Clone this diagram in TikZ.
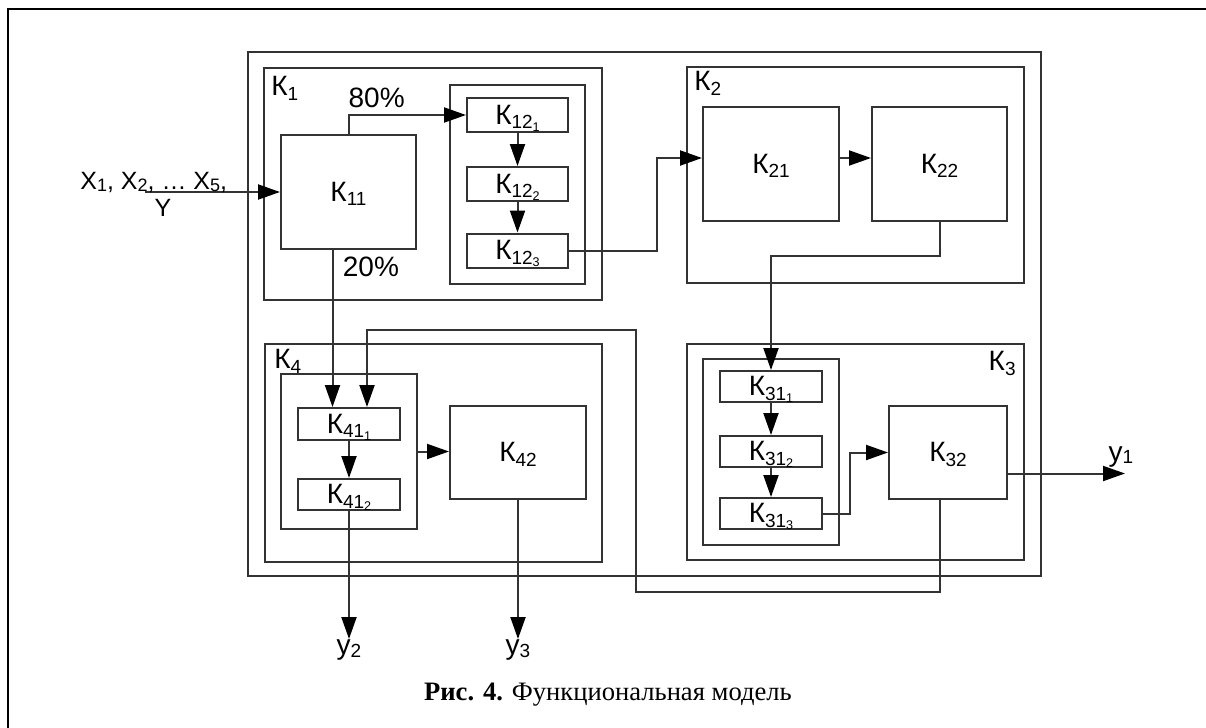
\documentclass[tikz,border=0pt]{standalone}
\usepackage{fontspec}
\setmainfont{Liberation Serif}
\newfontfamily\diafont{Liberation Sans}
\usetikzlibrary{arrows.meta,calc,positioning}
\tikzset{
  lbl/.style={font=\diafont\fontsize{14}{16}\selectfont,inner sep=0pt},
  blk/.style={draw=black!80,line width=1pt,inner sep=0pt,lbl,text height=10pt,text depth=1pt},
  arr/.style={draw=black!80,line width=1pt,-{Triangle[length=11pt,width=7.5pt,fill=black,color=black]}}
}
% block: name, centre, width, height (pt), text
\newcommand{\blk}[5]{\node[blk,minimum width=#3pt,minimum height=#4pt] (#1) at (#2) {#5};}
% K with index, and K with index of index
\newcommand{\Ks}[1]{К\raisebox{-2.4pt}{\fontsize{9.5}{10}\selectfont#1}}
\newcommand{\Kss}[2]{К\raisebox{-2.4pt}{\fontsize{9.5}{10}\selectfont#1\raisebox{-1.2pt}{\fontsize{6.3}{7}\selectfont#2}}}
\newcommand{\Xs}[1]{X\raisebox{-1pt}{\fontsize{9}{9}\selectfont#1}}

\begin{document}
\begin{tikzpicture}[x=0.5pt,y=-0.5pt]
  \useasboundingbox (0,0) rectangle (1206,728);
  % Page frame
  \draw[line width=1.3pt] (8,728) -- (8,9) -- (1206,9);
  % Outer system
  \blk{sys}{644.5,314}{396.5}{262}{}
  % K1
  \blk{k1}{433,184}{169}{116}{}
  \node[lbl,anchor=north west] (k1t) at ($(k1.north west)+(8,9)$) {\Ks{1}};
  \blk{k11}{348.5,192}{67.5}{57}{\Ks{11}}
  \blk{k12}{517.5,184.5}{67.5}{99.5}{}
  \blk{k121}{517.5,115}{50.5}{17}{\Kss{12}{1}}
  \blk{k122}{517.5,184}{50.5}{17}{\Kss{12}{2}}
  \blk{k123}{517.5,250.5}{50.5}{17}{\Kss{12}{3}}
  % K2
  \blk{k2}{855.5,175}{168.5}{108}{}
  \node[lbl,anchor=north west] (k2t) at ($(k2.north west)+(8,5)$) {\Ks{2}};
  \blk{k21}{771,164}{68}{57}{\Ks{21}}
  \blk{k22}{939.5,164}{67.5}{57}{\Ks{22}}
  % K4
  \blk{k4}{433.5,453}{168.5}{109}{}
  \node[lbl,anchor=north west] (k4t) at ($(k4.north west)+(10,6)$) {\Ks{4}};
  \blk{k41}{349,451.5}{68}{77.5}{}
  \blk{k411}{349,424}{51}{16}{\Kss{41}{1}}
  \blk{k412}{349,494.5}{51}{15.5}{\Kss{41}{2}}
  \blk{k42}{518,452.5}{68}{46.5}{\Ks{42}}
  % K3
  \blk{k3}{855.5,452}{168.5}{108}{}
  \node[lbl,anchor=north east] (k3t) at ($(k3.north east)+(-9,8)$) {\Ks{3}};
  \blk{k31}{771,452}{68}{93}{}
  \blk{k311}{771,386.5}{51}{15.5}{\Kss{31}{1}}
  \blk{k312}{771,451.5}{51}{15.5}{\Kss{31}{2}}
  \blk{k313}{771,513.5}{51}{15.5}{\Kss{31}{3}}
  \blk{k32}{948,452.5}{59}{46.5}{\Ks{32}}

  % Input
  \coordinate (in) at ($(k11.west)+(-135,0)$);
  \draw[arr] (in) -- (k11.west);
  \node[lbl,font=\diafont\fontsize{12.5}{14}\selectfont,anchor=base west] (xin) at (80,189)
    {\Xs{1}, \Xs{2}, \dots\ \Xs{5},};
  \node[lbl,font=\diafont\fontsize{12.5}{14}\selectfont,anchor=base] (yin) at (163,216) {Y};
  % K1 internals
  \draw[arr] (k11.north) |- node[lbl,pos=0.62,above=3pt] {80\%} (k121.west);
  \draw[arr] (k121) -- (k122);
  \draw[arr] (k122) -- (k123);
  \coordinate (p20) at ($(k11.south)+(-16,0)$);
  \node[lbl,anchor=north west] (l20) at ($(p20)+(10,7)$) {20\%};
  \draw[arr] (p20) -- (p20 |- k411.north);
  % K1 -> K2
  \draw[arr] (k123.east) -- ++(88,0) |- ($(k21.west)+(0,-6)$);
  \draw[arr] ($(k21.east)+(0,-6)$) -- ($(k22.west)+(0,-6)$);
  % K2 -> K3
  \draw[arr] (k22.south) -- ++(0,34) -| (k311.north);
  \draw[arr] (k311) -- (k312);
  \draw[arr] (k312) -- (k313);
  \draw[arr] (k313.east) -- ++(27,0) |- (k32.west);
  % K3 outputs
  \coordinate (o1) at ($(k32.east)+(117,21)$);
  \draw[arr] ($(k32.east)+(0,21)$) -- (o1);
  \node[lbl,anchor=base] (y1) at ($(o1)+(-4,-12)$) {y\raisebox{-1pt}{\fontsize{9.5}{10}\selectfont 1}};
  \coordinate (fb) at ($(k32.south)+(-8,0)$);
  \draw[arr] (fb) -- ++(0,92) -| ++(-304,-262) -| ($(k411.north)+(18,0)$);
  % K4 internals and outputs
  \draw[arr] (k411) -- (k412);
  \draw[arr] (k41.east) -- (k41.east -| k42.west);
  \node[lbl,anchor=north] (y2) at ($(k412.south)+(0,128)$) {y\raisebox{-1.5pt}{\fontsize{9.5}{10}\selectfont 2}};
  \draw[arr] (k412.south) -- (y2.north);
  \node[lbl,anchor=north] (y3) at ($(k42.south)+(0,139)$) {y\raisebox{-1.5pt}{\fontsize{9.5}{10}\selectfont 3}};
  \draw[arr] (k42.south) -- (y3.north);
  % Caption
  \node[anchor=base] (cap) at (608,700) {\fontsize{13.3}{16}\selectfont\textbf{Рис. 4.} Функциональная модель};
\end{tikzpicture}
\end{document}
